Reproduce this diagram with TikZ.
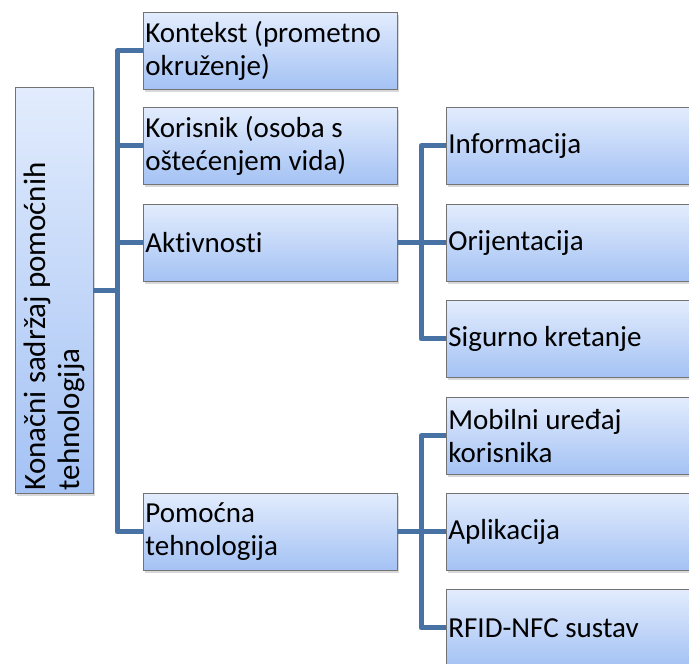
\documentclass[tikz,border=0pt]{standalone}
\usepackage{fontspec}
\setmainfont{Carlito}[Ligatures={NoCommon}]
\usetikzlibrary{shadows}
\definecolor{connc}{RGB}{72,113,164}
\definecolor{boxtop}{RGB}{226,236,253}
\definecolor{boxbot}{RGB}{164,194,244}
\definecolor{boxedge}{RGB}{115,115,115}
\begin{document}
\begin{tikzpicture}[x=1pt,y=-1pt,
  box/.style={draw=boxedge, line width=0.8pt, top color=boxtop, bottom color=boxbot,
    drop shadow={opacity=0.3, shadow xshift=2pt, shadow yshift=-2.5pt},
    minimum width=254pt, minimum height=77pt, text width=250pt, align=flush left,
    inner xsep=2pt, inner ysep=0pt, font=\fontsize{29}{33}\selectfont, anchor=north west},
  rootbox/.style={draw=boxedge, line width=0.8pt, top color=boxtop, bottom color=boxbot,
    drop shadow={opacity=0.3, shadow xshift=2pt, shadow yshift=-2.5pt},
    minimum width=78pt, minimum height=406pt, inner sep=0pt,
    font=\fontsize{31}{34}\selectfont},
  conn/.style={draw=connc, line width=5pt, line join=round}]
\useasboundingbox (0,0) rectangle (689,664);
\clip (0,0) rectangle (689,664);
\fill[white] (0,0) rectangle (689,664);

\coordinate (j1) at (117,0);
\coordinate (j2) at (421,0);

% root
\node[rootbox] (root) at (54,290) {\rotatebox{90}{\parbox{401pt}{\raggedright Konačni sadržaj pomoćnih\\tehnologija}}};

% level 1
\node[box] (kon) at (143,12) {Kontekst (prometno\\okruženje)};
\node[box] (kor) at (143,107) {Korisnik (osoba s\\oštećenjem vida)};
\node[box] (akt) at (143,204) {Aktivnosti};
\node[box] (pom) at (143,493) {Pomoćna\\tehnologija};

% level 2
\node[box] (inf) at (446,107) {Informacija};
\node[box] (ori) at (446,204) {Orijentacija};
\node[box] (sig) at (446,300) {Sigurno kretanje};
\node[box] (mob) at (446,397) {Mobilni uređaj\\korisnika};
\node[box] (apl) at (446,493) {Aplikacija};
\node[box] (rfi) at (446,589) {RFID-NFC sustav};

% connectors level 1
\draw[conn] (kon.west) -| (pom.west -| j1) -- (pom.west);
\draw[conn] (kor.west) -- (kor.west -| j1);
\draw[conn] (akt.west) -- (akt.west -| j1);
\draw[conn] (root.east) -- (root.east -| j1);

% connectors level 2
\draw[conn] (inf.west) -| (sig.west -| j2) -- (sig.west);
\draw[conn] (akt.east) -- (ori.west);
\draw[conn] (mob.west) -| (rfi.west -| j2) -- (rfi.west);
\draw[conn] (pom.east) -- (apl.west);
\end{tikzpicture}
\end{document}
